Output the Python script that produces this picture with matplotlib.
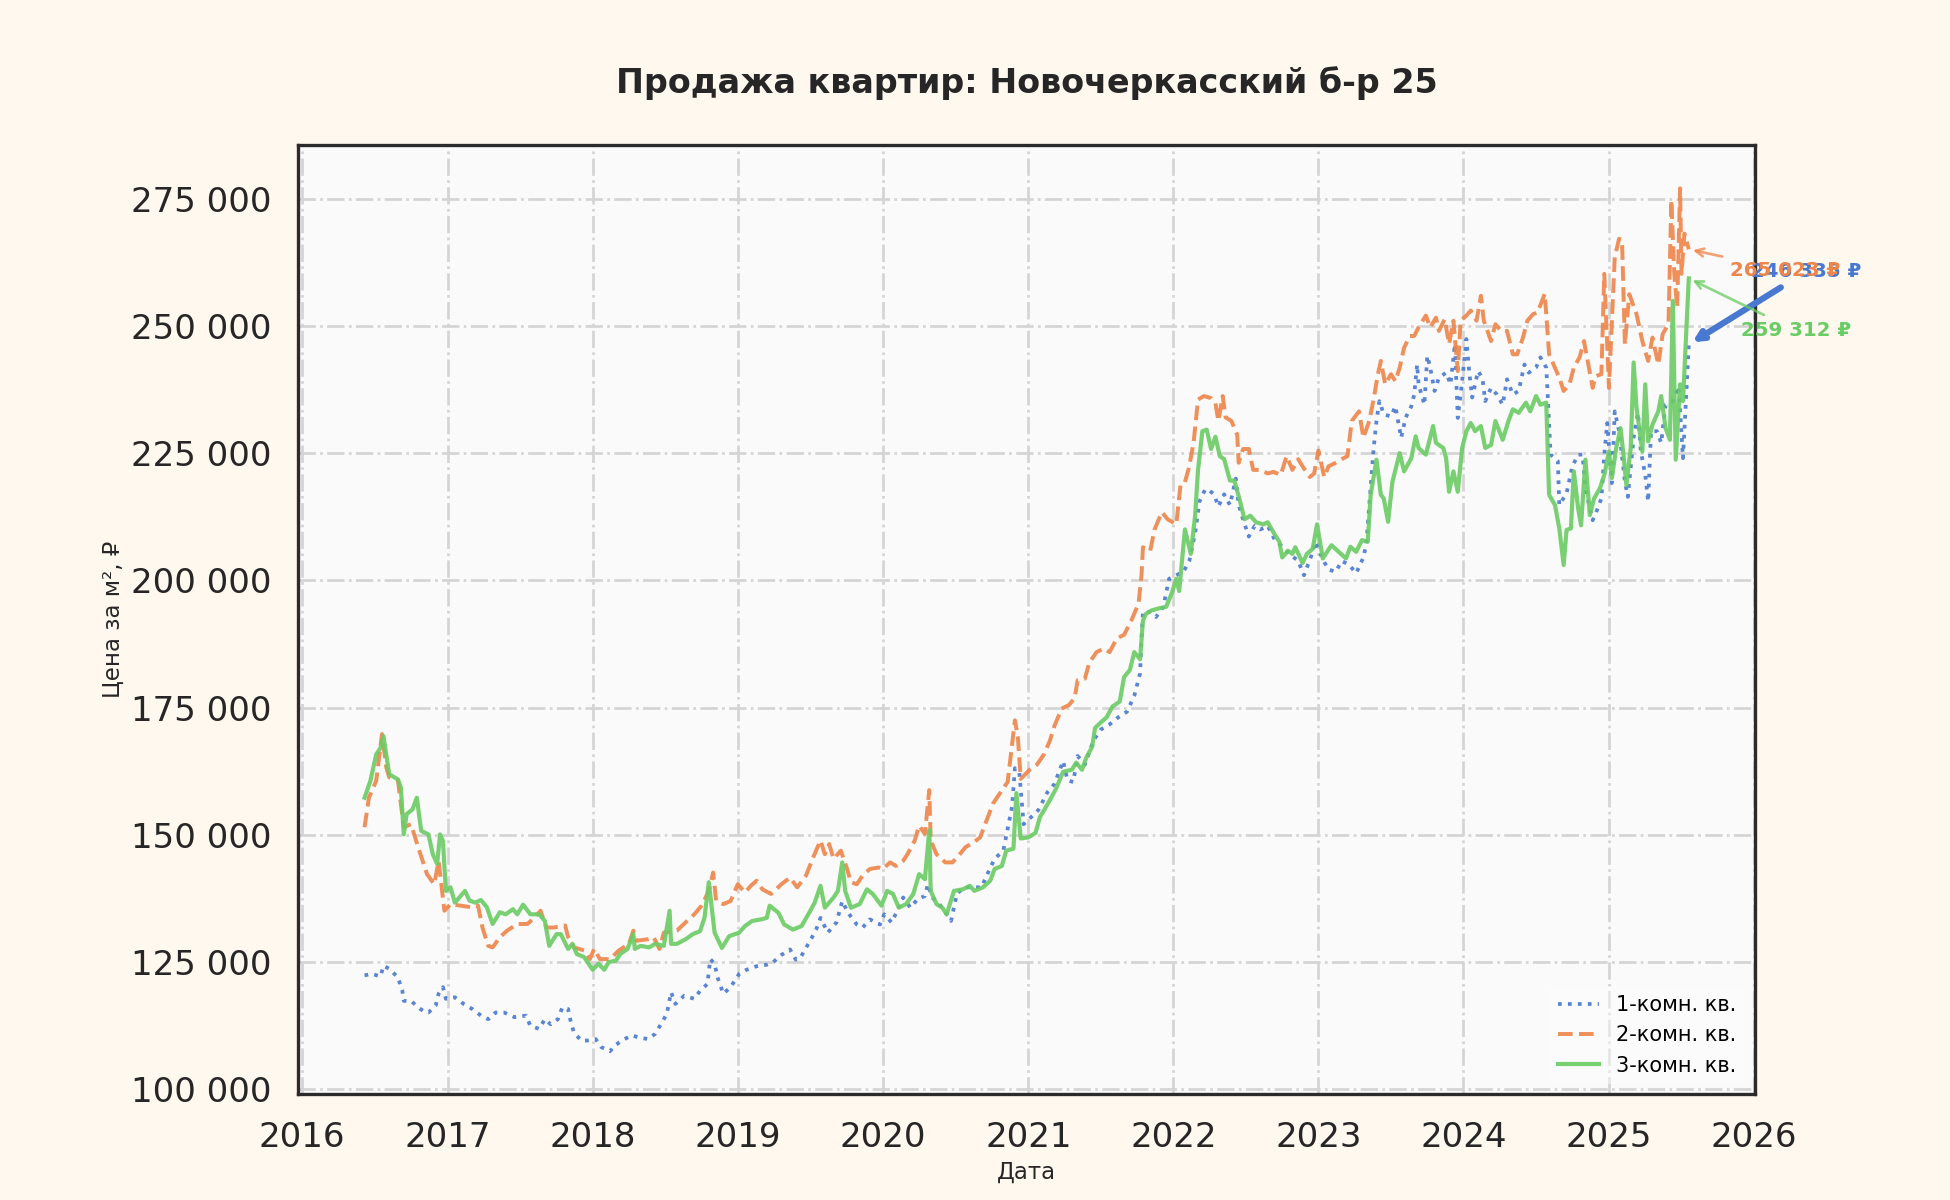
import datetime as dt

import matplotlib
matplotlib.use('Agg')
import matplotlib.dates as mdate
import matplotlib.pyplot as plt
from matplotlib.ticker import FuncFormatter, MultipleLocator

# dates are decimal years, prices in rubles per m2
years_1k = [2016.43, 2016.48, 2016.54, 2016.56, 2016.60, 2016.66, 2016.69, 2016.70, 2016.75, 2016.80,
            2016.85, 2016.87, 2016.92, 2016.94, 2016.97, 2016.99, 2017.05, 2017.11, 2017.17, 2017.23,
            2017.28, 2017.33, 2017.39, 2017.46, 2017.54, 2017.57, 2017.63, 2017.67, 2017.71, 2017.76,
            2017.79, 2017.83, 2017.85, 2017.87, 2017.92, 2017.96, 2018.02, 2018.06, 2018.12, 2018.15,
            2018.22, 2018.27, 2018.32, 2018.38, 2018.43, 2018.47, 2018.51, 2018.54, 2018.57, 2018.63,
            2018.70, 2018.74, 2018.79, 2018.81, 2018.84, 2018.86, 2018.90, 2018.95, 2019.01, 2019.06,
            2019.13, 2019.20, 2019.24, 2019.30, 2019.36, 2019.40, 2019.43, 2019.47, 2019.51, 2019.54,
            2019.57, 2019.62, 2019.68, 2019.72, 2019.76, 2019.82, 2019.86, 2019.91, 2019.98, 2020.01,
            2020.06, 2020.11, 2020.14, 2020.19, 2020.24, 2020.29, 2020.31, 2020.34, 2020.39, 2020.44,
            2020.47, 2020.51, 2020.56, 2020.62, 2020.68, 2020.72, 2020.77, 2020.83, 2020.86, 2020.89,
            2020.91, 2020.94, 2020.97, 2021.02, 2021.07, 2021.13, 2021.18, 2021.24, 2021.27, 2021.31,
            2021.34, 2021.39, 2021.45, 2021.50, 2021.56, 2021.62, 2021.68, 2021.73, 2021.77, 2021.78,
            2021.79, 2021.84, 2021.88, 2021.93, 2021.97, 2022.02, 2022.07, 2022.11, 2022.15, 2022.18,
            2022.22, 2022.25, 2022.28, 2022.31, 2022.35, 2022.39, 2022.43, 2022.45, 2022.48, 2022.52,
            2022.56, 2022.60, 2022.65, 2022.70, 2022.74, 2022.80, 2022.86, 2022.90, 2022.95, 2022.98,
            2023.03, 2023.07, 2023.12, 2023.16, 2023.21, 2023.26, 2023.31, 2023.33, 2023.36, 2023.38,
            2023.40, 2023.42, 2023.45, 2023.50, 2023.53, 2023.57, 2023.60, 2023.64, 2023.66, 2023.68,
            2023.69, 2023.73, 2023.75, 2023.77, 2023.80, 2023.83, 2023.88, 2023.91, 2023.94, 2023.96,
            2023.99, 2024.02, 2024.04, 2024.06, 2024.10, 2024.13, 2024.15, 2024.19, 2024.23, 2024.27,
            2024.30, 2024.34, 2024.38, 2024.42, 2024.45, 2024.50, 2024.53, 2024.57, 2024.58, 2024.60,
            2024.65, 2024.66, 2024.71, 2024.75, 2024.79, 2024.82, 2024.84, 2024.89, 2024.92, 2024.95,
            2024.97, 2024.99, 2025.02, 2025.04, 2025.07, 2025.11, 2025.13, 2025.17, 2025.20, 2025.22,
            2025.25, 2025.27, 2025.29, 2025.33, 2025.36, 2025.39, 2025.44, 2025.48, 2025.51, 2025.55]
price_1k = [122400, 122700, 122200, 124300, 123700, 122000, 119400, 117400, 117400, 116100,
            115100, 115100, 116500, 118800, 120100, 117800, 118100, 116800, 115800, 114500,
            113800, 115100, 115100, 114200, 114500, 112500, 111900, 113800, 112800, 113800,
            116100, 115800, 113100, 111200, 109600, 109600, 109900, 108300, 107500, 108600,
            109900, 110600, 110200, 109900, 110900, 112800, 114800, 119100, 116800, 118400,
            117800, 119400, 120700, 125600, 124700, 122000, 118800, 120100, 122700, 123500,
            124200, 124500, 124900, 126400, 127500, 125500, 125800, 127800, 129800, 131400,
            133700, 130800, 132800, 137000, 134700, 132400, 131800, 133400, 132400, 134400,
            132800, 135700, 137700, 135700, 137400, 138000, 140300, 137700, 136400, 134400,
            133100, 138400, 139700, 139700, 139700, 142300, 145300, 146900, 151200, 155500,
            163100, 162400, 152100, 153500, 154900, 158300, 160000, 164500, 160700, 160400,
            165500, 163800, 168600, 170700, 171700, 173100, 174200, 177300, 181700, 188600,
            193800, 193800, 192800, 194800, 200300, 201000, 201700, 203800, 209300, 215500,
            217900, 217600, 216900, 214500, 216900, 214800, 220000, 214800, 212000, 208600,
            210700, 210000, 210700, 207900, 206900, 205200, 203800, 201000, 204800, 207600,
            204100, 202100, 201700, 203800, 203100, 201400, 204500, 207200, 218200, 225800,
            231300, 235200, 232600, 232200, 234200, 228000, 231900, 234200, 236500, 242400,
            238500, 234500, 244100, 241800, 237200, 239800, 240800, 238500, 246400, 231900,
            239100, 247400, 240800, 235900, 241100, 239800, 235200, 237800, 236500, 234500,
            239500, 236500, 237200, 242400, 240800, 241800, 243800, 241800, 236500, 224700,
            223400, 214800, 217100, 222400, 224700, 224700, 218100, 211800, 213800, 216100,
            224700, 230900, 219100, 233200, 229300, 219400, 216400, 228000, 232900, 225300,
            220700, 215500, 229300, 229300, 227000, 234500, 235200, 238100, 224000, 246335]

years_2k = [2016.43, 2016.46, 2016.51, 2016.55, 2016.58, 2016.60, 2016.66, 2016.70, 2016.75, 2016.80,
            2016.86, 2016.91, 2016.94, 2016.98, 2017.02, 2017.09, 2017.16, 2017.21, 2017.24, 2017.28,
            2017.31, 2017.36, 2017.41, 2017.48, 2017.55, 2017.60, 2017.64, 2017.68, 2017.73, 2017.81,
            2017.83, 2017.87, 2017.94, 2017.98, 2018.01, 2018.05, 2018.12, 2018.18, 2018.25, 2018.28,
            2018.30, 2018.38, 2018.42, 2018.46, 2018.49, 2018.58, 2018.64, 2018.70, 2018.75, 2018.80,
            2018.83, 2018.85, 2018.90, 2018.95, 2019.00, 2019.05, 2019.09, 2019.13, 2019.17, 2019.23,
            2019.30, 2019.36, 2019.41, 2019.47, 2019.52, 2019.57, 2019.60, 2019.63, 2019.66, 2019.71,
            2019.75, 2019.78, 2019.82, 2019.86, 2019.91, 2019.97, 2020.00, 2020.05, 2020.09, 2020.14,
            2020.17, 2020.22, 2020.25, 2020.29, 2020.32, 2020.33, 2020.37, 2020.43, 2020.48, 2020.53,
            2020.57, 2020.63, 2020.67, 2020.72, 2020.76, 2020.81, 2020.86, 2020.91, 2020.93, 2020.95,
            2021.01, 2021.06, 2021.11, 2021.15, 2021.18, 2021.23, 2021.28, 2021.32, 2021.34, 2021.39,
            2021.42, 2021.47, 2021.52, 2021.56, 2021.61, 2021.66, 2021.71, 2021.76, 2021.78, 2021.79,
            2021.84, 2021.87, 2021.92, 2021.96, 2022.02, 2022.05, 2022.08, 2022.11, 2022.14, 2022.17,
            2022.21, 2022.26, 2022.29, 2022.31, 2022.34, 2022.36, 2022.40, 2022.44, 2022.45, 2022.48,
            2022.52, 2022.55, 2022.60, 2022.65, 2022.69, 2022.74, 2022.78, 2022.82, 2022.86, 2022.89,
            2022.94, 2022.97, 2023.00, 2023.04, 2023.07, 2023.12, 2023.16, 2023.20, 2023.23, 2023.28,
            2023.31, 2023.35, 2023.38, 2023.41, 2023.43, 2023.46, 2023.50, 2023.53, 2023.56, 2023.59,
            2023.63, 2023.66, 2023.69, 2023.74, 2023.77, 2023.81, 2023.83, 2023.87, 2023.90, 2023.93,
            2023.96, 2023.98, 2024.02, 2024.05, 2024.09, 2024.12, 2024.14, 2024.19, 2024.22, 2024.26,
            2024.30, 2024.34, 2024.37, 2024.41, 2024.44, 2024.48, 2024.51, 2024.56, 2024.59, 2024.63,
            2024.66, 2024.69, 2024.73, 2024.76, 2024.80, 2024.83, 2024.86, 2024.89, 2024.91, 2024.95,
            2024.97, 2025.00, 2025.04, 2025.07, 2025.09, 2025.11, 2025.14, 2025.19, 2025.23, 2025.27,
            2025.30, 2025.34, 2025.37, 2025.41, 2025.43, 2025.45, 2025.47, 2025.49, 2025.50, 2025.52,
            2025.55]
price_2k = [151500, 157300, 160600, 169800, 163200, 161300, 160700, 151500, 152100, 147500,
            142300, 140300, 144900, 135100, 136400, 136100, 135800, 136100, 131800, 128200,
            127900, 129900, 131200, 132500, 132500, 133800, 135100, 131800, 131800, 132200,
            129900, 127900, 127300, 125600, 127600, 125600, 125600, 127300, 128600, 131200,
            129200, 129500, 129900, 127600, 130800, 131200, 132800, 134400, 136100, 139000,
            142600, 137100, 136400, 137000, 140300, 138700, 140000, 141000, 139300, 138400,
            140300, 141600, 139700, 142000, 145600, 148900, 146200, 148200, 145300, 146900,
            143600, 140700, 140300, 142000, 143300, 143600, 143300, 144600, 143900, 144900,
            146200, 148900, 151800, 150200, 158800, 148900, 146200, 144600, 144600, 146200,
            147600, 148600, 149500, 153200, 156200, 158300, 160400, 172500, 169300, 161000,
            162800, 163800, 165900, 168600, 171400, 174800, 175500, 176900, 180400, 180700,
            183800, 185900, 186600, 185900, 188600, 189300, 192100, 195500, 201000, 206500,
            205800, 210000, 213400, 212000, 211000, 218900, 219300, 222400, 227200, 235500,
            236200, 235800, 234800, 231300, 236200, 232000, 231300, 228600, 223100, 225800,
            225800, 221700, 221700, 221000, 221300, 220700, 224400, 221700, 223800, 222400,
            220300, 221000, 225500, 220300, 222400, 223100, 223800, 224400, 231300, 233200,
            228000, 231300, 235500, 240500, 243100, 238500, 240500, 239100, 241800, 245700,
            248000, 248000, 249700, 252000, 249700, 251600, 249000, 251300, 246400, 251000,
            241100, 251000, 252000, 253000, 251000, 255900, 251000, 247000, 250300, 249000,
            249000, 244400, 244400, 247700, 251000, 252300, 252600, 256300, 244400, 241800,
            239800, 237200, 238500, 241800, 243800, 247000, 242400, 237800, 240100, 240500,
            260200, 237800, 263500, 267100, 266800, 246400, 256200, 252300, 247000, 243100,
            247700, 242400, 248400, 250300, 274700, 260200, 253600, 277000, 260200, 268100,
            265023]

years_3k = [2016.43, 2016.47, 2016.51, 2016.54, 2016.56, 2016.60, 2016.66, 2016.68, 2016.70, 2016.72,
            2016.76, 2016.79, 2016.82, 2016.87, 2016.90, 2016.93, 2016.95, 2016.97, 2016.99, 2017.02,
            2017.05, 2017.08, 2017.12, 2017.15, 2017.19, 2017.23, 2017.27, 2017.31, 2017.36, 2017.40,
            2017.45, 2017.48, 2017.52, 2017.57, 2017.63, 2017.67, 2017.70, 2017.75, 2017.78, 2017.83,
            2017.86, 2017.89, 2017.94, 2018.00, 2018.04, 2018.08, 2018.11, 2018.16, 2018.19, 2018.24,
            2018.28, 2018.29, 2018.33, 2018.39, 2018.43, 2018.49, 2018.53, 2018.54, 2018.58, 2018.64,
            2018.69, 2018.74, 2018.77, 2018.80, 2018.84, 2018.89, 2018.94, 2019.01, 2019.05, 2019.10,
            2019.16, 2019.20, 2019.22, 2019.28, 2019.32, 2019.38, 2019.44, 2019.50, 2019.53, 2019.57,
            2019.60, 2019.66, 2019.69, 2019.72, 2019.74, 2019.78, 2019.84, 2019.89, 2019.93, 2019.99,
            2020.03, 2020.07, 2020.11, 2020.16, 2020.21, 2020.25, 2020.29, 2020.32, 2020.33, 2020.37,
            2020.41, 2020.44, 2020.49, 2020.55, 2020.60, 2020.63, 2020.69, 2020.74, 2020.77, 2020.82,
            2020.85, 2020.90, 2020.92, 2020.95, 2021.00, 2021.05, 2021.08, 2021.11, 2021.15, 2021.19,
            2021.24, 2021.30, 2021.33, 2021.37, 2021.40, 2021.44, 2021.46, 2021.50, 2021.54, 2021.58,
            2021.63, 2021.66, 2021.70, 2021.73, 2021.77, 2021.79, 2021.81, 2021.85, 2021.90, 2021.95,
            2021.99, 2022.02, 2022.04, 2022.08, 2022.12, 2022.15, 2022.17, 2022.20, 2022.23, 2022.26,
            2022.29, 2022.32, 2022.35, 2022.39, 2022.42, 2022.46, 2022.49, 2022.53, 2022.57, 2022.62,
            2022.65, 2022.70, 2022.73, 2022.75, 2022.79, 2022.82, 2022.84, 2022.89, 2022.92, 2022.96,
            2022.99, 2023.03, 2023.09, 2023.14, 2023.19, 2023.22, 2023.26, 2023.30, 2023.34, 2023.36,
            2023.40, 2023.43, 2023.45, 2023.48, 2023.51, 2023.56, 2023.59, 2023.64, 2023.67, 2023.69,
            2023.74, 2023.79, 2023.81, 2023.86, 2023.88, 2023.90, 2023.93, 2023.96, 2023.99, 2024.02,
            2024.05, 2024.08, 2024.12, 2024.15, 2024.19, 2024.22, 2024.27, 2024.31, 2024.34, 2024.38,
            2024.43, 2024.46, 2024.50, 2024.53, 2024.57, 2024.59, 2024.63, 2024.66, 2024.69, 2024.71,
            2024.74, 2024.76, 2024.79, 2024.81, 2024.84, 2024.87, 2024.90, 2024.94, 2024.97, 2025.00,
            2025.02, 2025.05, 2025.08, 2025.10, 2025.12, 2025.15, 2025.17, 2025.19, 2025.23, 2025.25,
            2025.27, 2025.30, 2025.34, 2025.36, 2025.39, 2025.42, 2025.44, 2025.46, 2025.49, 2025.51,
            2025.55]
price_3k = [157300, 160600, 165800, 167100, 169400, 161900, 160900, 159300, 150100, 154100,
            155000, 157300, 150800, 150100, 146200, 144300, 150100, 148800, 139000, 139700,
            136700, 137700, 139000, 137100, 136700, 137200, 135800, 132500, 134800, 134400,
            135400, 134400, 136300, 134400, 134400, 133100, 128200, 130500, 130500, 127600,
            128600, 126600, 126000, 123500, 124700, 123500, 125000, 125300, 126600, 127600,
            130500, 127600, 128200, 127900, 128600, 128200, 135100, 128600, 128600, 129500,
            130500, 131100, 133700, 140700, 130800, 127800, 130100, 130800, 132100, 133100,
            133400, 133700, 136100, 134700, 132400, 131400, 132100, 135100, 136700, 140000,
            135700, 137700, 139000, 144600, 139000, 135700, 136400, 139300, 138400, 136100,
            139000, 138400, 135700, 136400, 138400, 142300, 141300, 150900, 139000, 136400,
            135700, 134400, 139000, 139300, 140000, 139000, 139700, 141000, 143300, 143900,
            146900, 147300, 158200, 149300, 149500, 150400, 153500, 154900, 156900, 159000,
            162400, 162800, 164200, 162800, 165200, 167300, 171000, 172100, 173100, 175200,
            176200, 181000, 182400, 185900, 184500, 192100, 193400, 194100, 194500, 194800,
            197600, 200300, 197900, 210000, 205200, 212700, 221700, 229300, 229600, 225800,
            228200, 224400, 223800, 219600, 219600, 215500, 212000, 212700, 211400, 211000,
            211400, 208900, 207600, 204500, 205800, 205200, 206500, 203400, 205200, 206200,
            211000, 204300, 206900, 205600, 204300, 206600, 205600, 207900, 207600, 216800,
            223700, 216800, 216100, 211500, 219400, 225000, 221400, 224000, 228300, 226000,
            224700, 230300, 227000, 226000, 224000, 217400, 221400, 217400, 226000, 229300,
            230900, 229300, 230300, 226000, 226600, 231300, 227600, 231300, 233600, 232900,
            234900, 233200, 236200, 234500, 234900, 216800, 214800, 210200, 203000, 209900,
            210200, 221400, 214100, 210800, 223700, 212800, 216100, 218100, 220700, 225300,
            220100, 226000, 229900, 224700, 218700, 226000, 242800, 233900, 225300, 238500,
            227300, 230600, 233200, 236200, 229900, 227600, 254900, 223700, 238500, 235200,
            259312]

series_labels = ['1-комн. кв.', '2-комн. кв.', '3-комн. кв.']
title = 'Продажа квартир: Новочеркасский б-р 25'

blue, orange, green = '#4878d0', '#ee854a', '#6acc64'


def to_dates(years):
    out = []
    for y in years:
        base = dt.datetime(int(y), 1, 1)
        out.append(base + dt.timedelta(days=(y - int(y)) * 365.25))
    return out


def rub(x, pos=None):
    return '{:,.0f}'.format(x).replace(',', ' ')


fig = plt.figure(figsize=(13, 8), dpi=150, facecolor='#fff8ef')
ax = fig.add_axes([0.153, 0.088, 0.747, 0.791])
ax.set_facecolor('#fafafa')

styles = [(years_1k, price_1k, blue, ':', 1.8),
          (years_2k, price_2k, orange, '--', 1.9),
          (years_3k, price_3k, green, '-', 2.0)]
for (yrs, vals, col, ls, lw), lab in zip(styles, series_labels):
    ax.plot(to_dates(yrs), vals, color=col, linestyle=ls, linewidth=lw,
            alpha=0.9, label=lab)

# last value callouts
offsets = [(30, 35), (20, -10), (25, -25)]
widths = [3.0, 1.3, 1.3]
alphas = [1.0, 0.75, 0.75]
for (yrs, vals, col, ls, lw), off, aw, aa in zip(styles, offsets, widths, alphas):
    ax.annotate('{} ₽'.format(rub(vals[-1])),
                xy=(to_dates(yrs)[-1], vals[-1]), xytext=off,
                textcoords='offset points', ha='left', va='center',
                fontsize=9.5, fontweight='bold', color=col,
                arrowprops=dict(arrowstyle='->', color=col, lw=aw, alpha=aa),
                annotation_clip=False)

ax.xaxis.set_major_locator(mdate.YearLocator())
ax.xaxis.set_major_formatter(mdate.DateFormatter('%Y'))
ax.yaxis.set_major_locator(MultipleLocator(25000))
ax.yaxis.set_major_formatter(FuncFormatter(rub))
ax.tick_params(axis='both', labelsize=16.3, length=0, pad=13, colors='#262626')

ax.grid(True, linestyle='-.', color='#d4d4d4', linewidth=1.3)
ax.set_axisbelow(True)
for sp in ax.spines.values():
    sp.set_color('#2b2b2b')
    sp.set_linewidth(1.6)

ax.set_title(title, fontsize=16, fontweight='bold', color='#262626', pad=25)
ax.set_xlabel('Дата', fontsize=11, color='#262626', labelpad=3)
ax.set_ylabel('Цена за м², ₽', fontsize=11, color='#262626', labelpad=3)

ax.legend(loc='lower right', fontsize=10, handlelength=2.0,
          frameon=True, facecolor='white', framealpha=0.4, edgecolor='none')

plt.savefig('out.png', dpi=150, facecolor=fig.get_facecolor())
